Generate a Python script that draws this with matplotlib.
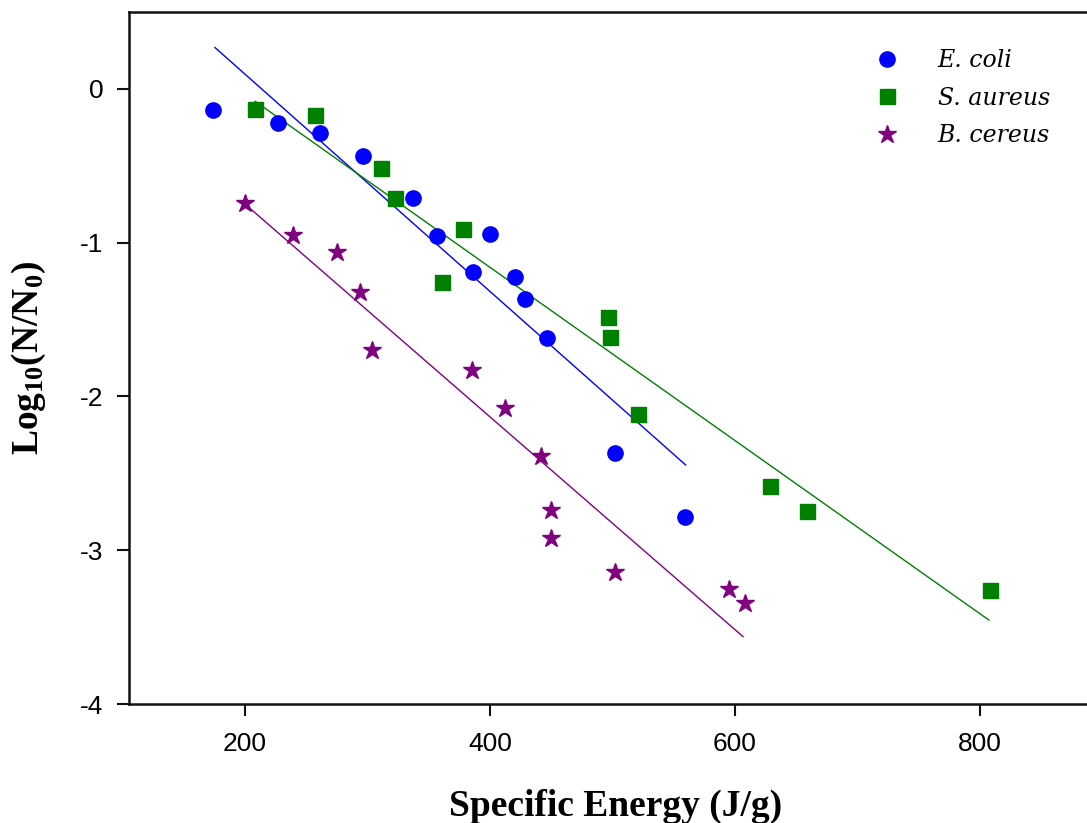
import matplotlib
matplotlib.use("Agg")
import matplotlib.pyplot as plt

# ---- data ----
ecoli_x = [173.6, 226.7, 261.5, 296.3, 337.1, 357.0, 400.0, 386.4, 420.4, 428.8, 446.3, 502.6, 559.2]
ecoli_y = [-0.137, -0.223, -0.284, -0.436, -0.711, -0.956, -0.943, -1.188, -1.221, -1.366, -1.621, -2.369, -2.784]

saureus_x = [208.4, 257.1, 310.8, 322.4, 377.7, 361.1, 496.9, 498.2, 520.8, 628.6, 658.8, 808.2]
saureus_y = [-0.128, -0.167, -0.514, -0.711, -0.911, -1.255, -1.481, -1.615, -2.114, -2.582, -2.745, -3.259]

bcereus_x = [200.2, 238.9, 275.3, 294.1, 303.4, 385.3, 412.0, 442.2, 449.8, 450.0, 502.6, 595.1, 608.2]
bcereus_y = [-0.744, -0.950, -1.062, -1.318, -1.698, -1.828, -2.073, -2.387, -2.738, -2.918, -3.140, -3.252, -3.343]

# fitted lines (endpoints)
ecoli_fit_x = [175.5, 560.0]
ecoli_fit_y = [0.269, -2.446]
saureus_fit_x = [208.4, 807.6]
saureus_fit_y = [-0.081, -3.454]
bcereus_fit_x = [200.2, 606.8]
bcereus_fit_y = [-0.75, -3.562]

labels = ["E. coli", "S. aureus", "B. cereus"]
xticks = [200, 400, 600, 800]
xticklabels = ["200", "400", "600", "800"]
yticks = [0, -1, -2, -3, -4]
yticklabels = ["0", "-1", "-2", "-3", "-4"]

# ---- fonts ----
tick_font = "Liberation Sans"
plt.rcParams["mathtext.fontset"] = "custom"
plt.rcParams["mathtext.rm"] = "Liberation Serif:bold"
plt.rcParams["mathtext.bf"] = "Liberation Serif:bold"
plt.rcParams["mathtext.it"] = "Liberation Serif:italic:bold"

W, H = 1087, 823
fig = plt.figure(figsize=(W / 100, H / 100), dpi=100)
ax = fig.add_axes([129 / W, 1 - 704 / H, (1102 - 129) / W, (704 - 12) / H])

blue = "#0000FF"
green = "#008000"
purple = "#800080"

ax.plot(ecoli_fit_x, ecoli_fit_y, color=blue, lw=1.0, zorder=2)
ax.plot(saureus_fit_x, saureus_fit_y, color=green, lw=1.0, zorder=2)
ax.plot(bcereus_fit_x, bcereus_fit_y, color=purple, lw=1.0, zorder=2)

ax.plot(ecoli_x, ecoli_y, "o", color=blue, ms=11, mec=blue, ls="none", label=labels[0], zorder=3)
ax.plot(saureus_x, saureus_y, "s", color=green, ms=10.8, mec=green, ls="none", label=labels[1], zorder=3)
ax.plot(bcereus_x, bcereus_y, "*", color=purple, ms=13.5, mec=purple, ls="none", label=labels[2], zorder=3)

ax.set_xlim(105.3, 900)
ax.set_ylim(-4, 0.5)
ax.set_xticks(xticks)
ax.set_xticklabels(xticklabels, fontfamily=tick_font, fontsize=19)
ax.set_yticks(yticks)
ax.set_yticklabels(yticklabels, fontfamily=tick_font, fontsize=19)
ax.tick_params(direction="out", length=8.5, width=1.5, color="#111111")
ax.tick_params(axis="y", pad=10)
ax.tick_params(axis="x", pad=12)
ax.spines["right"].set_visible(False)
for s in ["left", "bottom", "top"]:
    ax.spines[s].set_linewidth(1.8)
    ax.spines[s].set_color("#111111")

ax.set_xlabel("Specific Energy (J/g)", fontfamily="Liberation Serif", fontweight="bold", fontsize=27)
ax.xaxis.set_label_coords(0.5, -0.123)
ax.set_ylabel(r"Log$_{10}$(N/N$_{0}$)", fontfamily="Liberation Serif", fontweight="bold", fontsize=27)
ax.yaxis.set_label_coords(-0.083, 0.5)

leg = ax.legend(loc="upper left", bbox_to_anchor=(0.745, 0.96), frameon=False,
                prop={"family": "DejaVu Serif", "style": "italic", "size": 17},
                handlelength=2.0, handletextpad=1.15, labelspacing=0.61, borderaxespad=0)

fig.savefig("out.png", dpi=100)
